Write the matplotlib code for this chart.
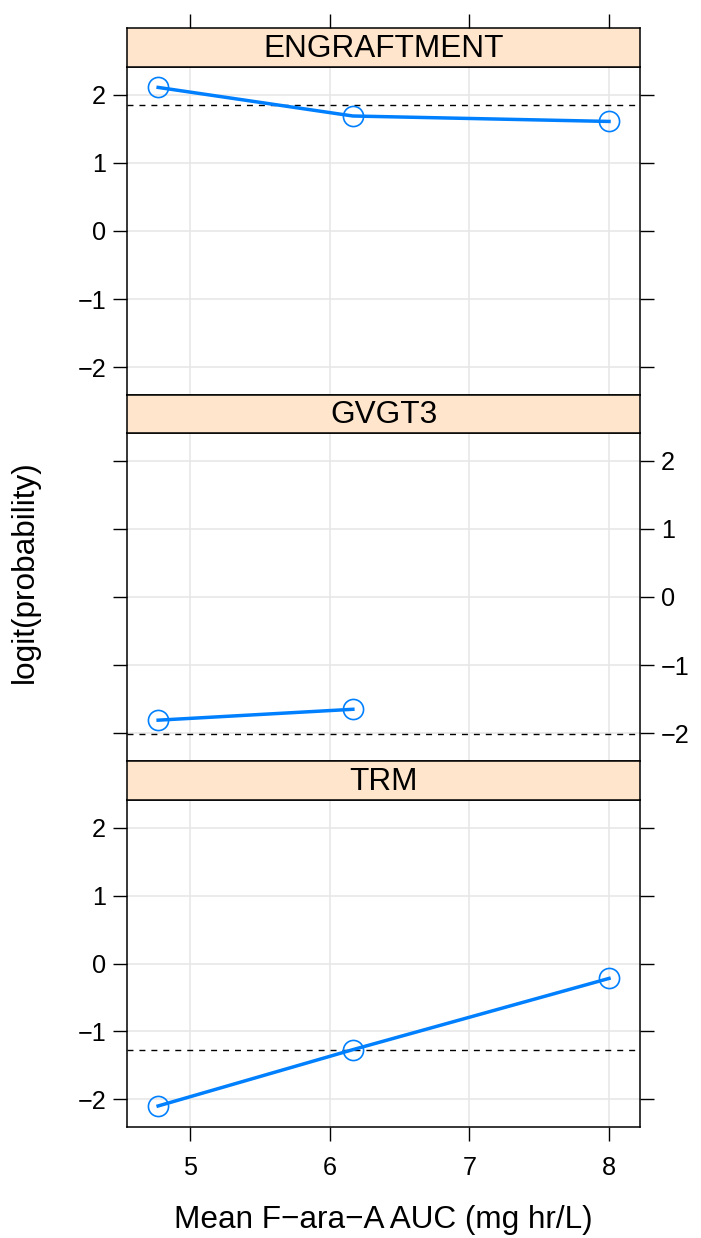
import numpy as np
import matplotlib
matplotlib.use("Agg")
import matplotlib.pyplot as plt

plt.rcParams['font.family'] = ['Liberation Sans', 'DejaVu Sans']

# logit(probability) by mean AUC, one panel per outcome
outcomes = ["ENGRAFTMENT", "GVGT3", "TRM"]
auc = [4.77, 6.165, 8.0]
engraft = [2.11, 1.69, 1.61]
gvgt3 = [-1.81, -1.65]
trm = [-2.10, -1.27, -0.22]
overall = [1.85, -2.02, -1.27]   # dashed reference line per panel
series = [engraft, gvgt3, trm]

xticks = [5, 6, 7, 8]
yticks = [-2, -1, 0, 1, 2]

W, H = 701, 1238
fig = plt.figure(figsize=(W / 100, H / 100), dpi=100)

left, right = 127, 640
panels = [(67, 395), (433, 761), (800, 1127)]
strips = [(28, 67), (395, 433), (761, 800)]
blue = "#0080ff"
tick_pt = 10
lab_fs = 22.7
tick_fs = 18.2


def frac(x0, y0, x1, y1):
    return [x0 / W, 1 - y1 / H, (x1 - x0) / W, (y1 - y0) / H]


for i, name in enumerate(outcomes):
    ax = fig.add_axes(frac(left, panels[i][0], right, panels[i][1]))
    ax.set_xlim(4.547, 8.222)
    ax.set_ylim(-2.41, 2.41)
    for g in xticks:
        ax.axvline(g, color="#e6e6e6", lw=1.1, zorder=0)
    for g in yticks:
        ax.axhline(g, color="#e6e6e6", lw=1.1, zorder=0)
    ax.axhline(overall[i], color="black", lw=1.0, ls=(0, (4.3, 4.3)), zorder=1)
    ys = series[i]
    ax.plot(auc[:len(ys)], ys, color=blue, lw=2.5, marker="o", ms=14.5,
            mfc="none", mec=blue, mew=1.2, zorder=3, clip_on=False)

    ax.set_yticks(yticks)
    ax.set_yticklabels([("\u2212%d" % -v) if v < 0 else str(v) for v in yticks])
    ax.tick_params(axis="y", direction="out", length=tick_pt, width=1.0,
                   left=True, right=True, labelsize=tick_fs,
                   labelleft=(i != 1), labelright=(i == 1), pad=5)
    ax.set_xticks(xticks)
    if i == 2:
        ax.tick_params(axis="x", direction="out", length=tick_pt, width=1.0,
                       bottom=True, top=False, labelsize=tick_fs, pad=11)
    else:
        ax.tick_params(axis="x", bottom=False, top=False, labelbottom=False)
    for s in ax.spines.values():
        s.set_linewidth(1.1)

    # strip with the outcome name
    sax = fig.add_axes(frac(left, strips[i][0], right, strips[i][1]))
    sax.set_facecolor("#ffe5cc")
    sax.set_xlim(4.547, 8.222)
    sax.set_yticks([])
    sax.set_xticks(xticks)
    if i == 0:
        sax.tick_params(axis="x", direction="out", length=tick_pt, width=1.0,
                        bottom=False, top=True, labelbottom=False, labeltop=False)
    else:
        sax.tick_params(axis="x", bottom=False, top=False, labelbottom=False)
    for s in sax.spines.values():
        s.set_linewidth(1.1)
    sax.text(0.5, 0.47, name, transform=sax.transAxes, ha="center",
             va="center", fontsize=lab_fs)

fig.text(383.5 / W, 1 - 1220 / H, "Mean F\u2212ara\u2212A AUC (mg hr/L)",
         ha="center", va="center", fontsize=lab_fs)
fig.text(25 / W, 1 - 572 / H, "logit(probability)", rotation=90,
         ha="center", va="center", fontsize=lab_fs)

fig.savefig("out.png", dpi=100)
